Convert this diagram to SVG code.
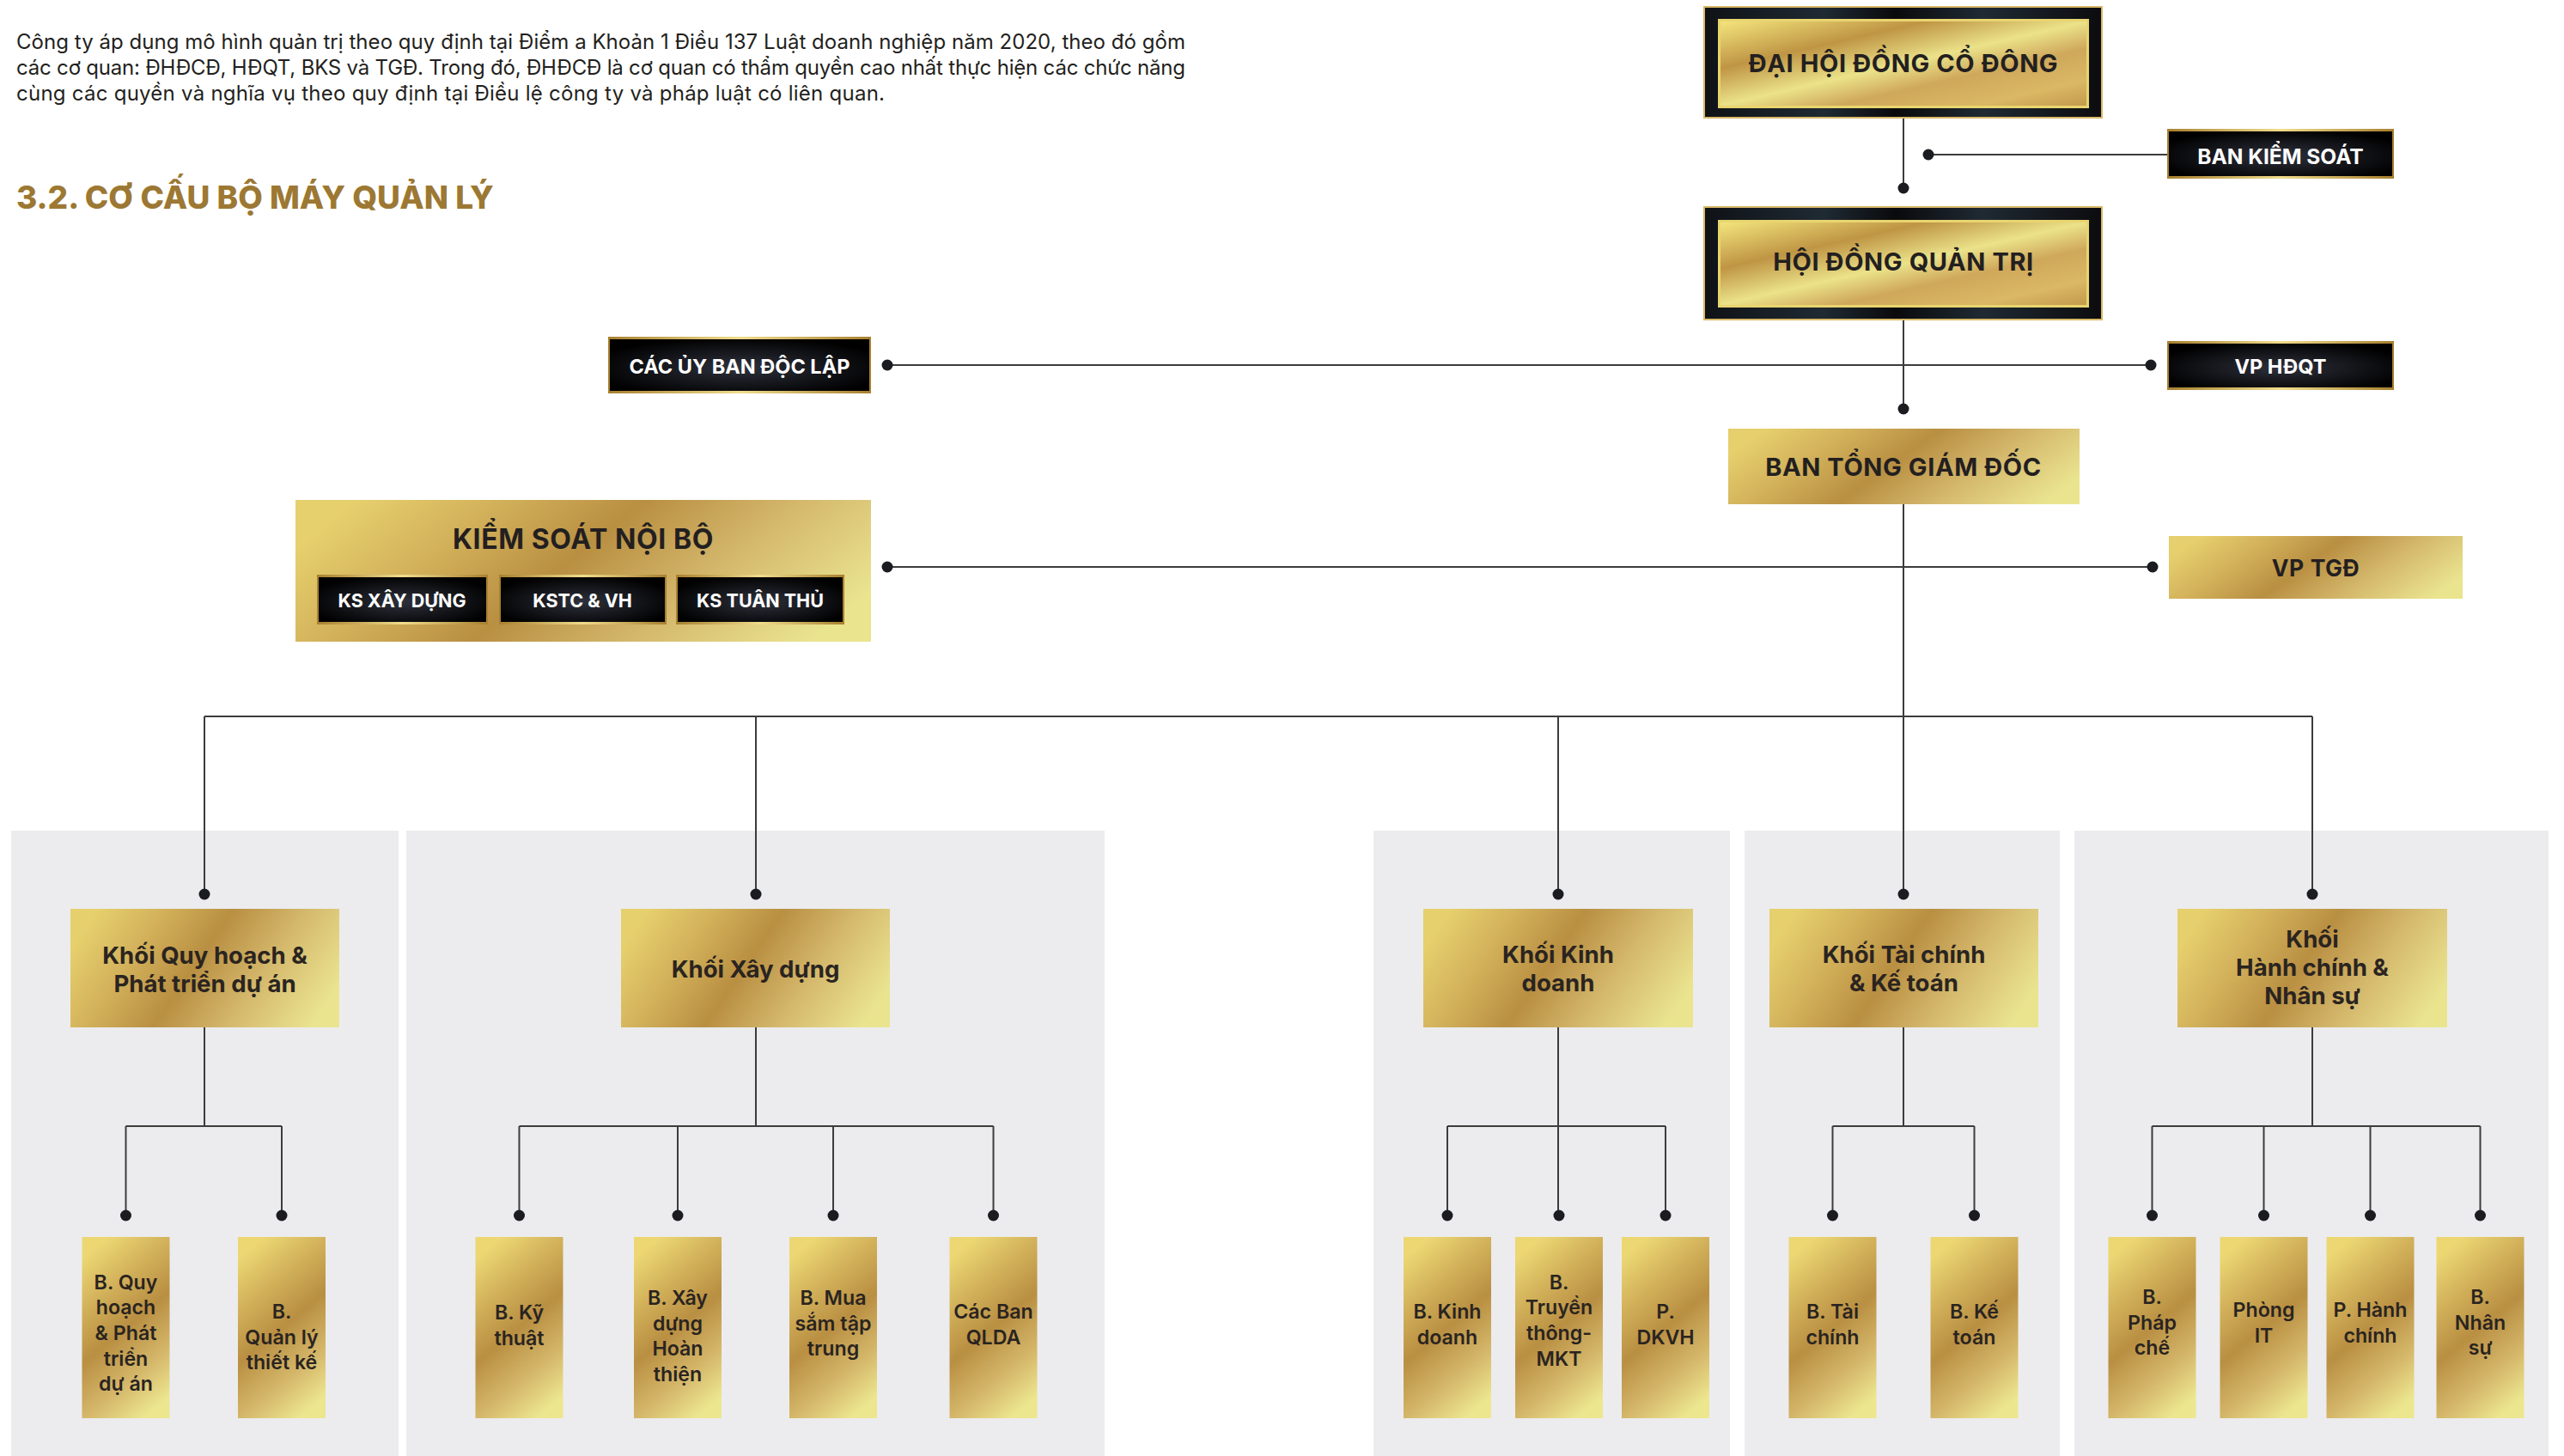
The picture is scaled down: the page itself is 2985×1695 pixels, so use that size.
<svg xmlns="http://www.w3.org/2000/svg" width="2985" height="1695" viewBox="0 0 2985 1695">
<defs>
<linearGradient id="goldH" x1="0" y1="0.35" x2="1" y2="0.65">
<stop offset="0" stop-color="#e6cf6d"/><stop offset="0.22" stop-color="#d3b25b"/><stop offset="0.46" stop-color="#b98f42"/><stop offset="0.72" stop-color="#d5b96d"/><stop offset="1" stop-color="#eae48f"/>
</linearGradient>
<linearGradient id="goldV" x1="0.3" y1="0" x2="0.7" y2="1">
<stop offset="0" stop-color="#ecd773"/><stop offset="0.25" stop-color="#d2b15a"/><stop offset="0.5" stop-color="#b98f42"/><stop offset="0.78" stop-color="#d6b96c"/><stop offset="1" stop-color="#ece68f"/>
</linearGradient>
<linearGradient id="goldD" x1="0" y1="0" x2="1" y2="1">
<stop offset="0" stop-color="#f3e47c"/><stop offset="0.28" stop-color="#bf9544"/><stop offset="0.5" stop-color="#ebe28a"/><stop offset="0.66" stop-color="#cfa85b"/><stop offset="0.85" stop-color="#dab864"/><stop offset="1" stop-color="#c39a4c"/>
</linearGradient>
<linearGradient id="darkF" x1="0" y1="0" x2="1" y2="0">
<stop offset="0" stop-color="#0f1216"/><stop offset="0.3" stop-color="#1f2a33"/><stop offset="0.48" stop-color="#0a0a0c"/><stop offset="0.7" stop-color="#1f2a33"/><stop offset="1" stop-color="#0c0c0e"/>
</linearGradient>
<linearGradient id="goldLine" x1="0" y1="0" x2="1" y2="0">
<stop offset="0" stop-color="#a8802f"/><stop offset="0.5" stop-color="#f0dc8c"/><stop offset="1" stop-color="#a8802f"/>
</linearGradient>
<radialGradient id="darkR" cx="0.5" cy="0.55" r="0.6">
<stop offset="0" stop-color="#2e313b"/><stop offset="0.55" stop-color="#15161b"/><stop offset="1" stop-color="#000"/>
</radialGradient>
<style>
.para{font-family:Inter,"Noto Sans",sans-serif;font-size:24px;fill:#231f20}
.title{font-family:Inter,"Noto Sans",sans-serif;font-weight:800;font-size:37px;fill:#9c7833}
.big{font-family:Inter,"Noto Sans",sans-serif;font-weight:700;font-size:29px;letter-spacing:0.6px;fill:#231f20;text-anchor:middle}
.wt{font-family:Inter,"Noto Sans",sans-serif;font-weight:700;font-size:23.5px;fill:#fff;text-anchor:middle}
.ks{font-size:21.5px}
.kh{font-family:Inter,"Noto Sans",sans-serif;font-weight:700;font-size:27.6px;fill:#2a2420;text-anchor:middle}
.sub{font-family:Inter,"Noto Sans",sans-serif;font-weight:600;font-size:23.2px;fill:#2a2420;text-anchor:middle}
.panel{fill:#ececee}
.ln{stroke:#3c3c3c;stroke-width:2;fill:none}
.dot{fill:#1b1c20}
.sb{fill:url(#goldV)}
.gh{fill:url(#goldH)}
</style>
</defs>
<rect width="2985" height="1695" fill="#fff"/>
<g id="intro">
<text class="para" x="19" y="57" textLength="1361" lengthAdjust="spacing">Công ty áp dụng mô hình quản trị theo quy định tại Điểm a Khoản 1 Điều 137 Luật doanh nghiệp năm 2020, theo đó gồm</text>
<text class="para" x="19" y="87" textLength="1361" lengthAdjust="spacing">các cơ quan: ĐHĐCĐ, HĐQT, BKS và TGĐ. Trong đó, ĐHĐCĐ là cơ quan có thẩm quyền cao nhất thực hiện các chức năng</text>
<text class="para" x="19" y="117" textLength="1011" lengthAdjust="spacing">cùng các quyền và nghĩa vụ theo quy định tại Điều lệ công ty và pháp luật có liên quan.</text>
<text class="title" x="19" y="243">3.2. CƠ CẤU BỘ MÁY QUẢN LÝ</text>
</g>
<g id="panels">
<rect class="panel" x="13" y="967" width="451" height="728"/>
<rect class="panel" x="473" y="967" width="813" height="728"/>
<rect class="panel" x="1599" y="967" width="415" height="728"/>
<rect class="panel" x="2031" y="967" width="367" height="728"/>
<rect class="panel" x="2415" y="967" width="552" height="728"/>
</g>
<g id="connectors">
<path class="ln" d="M2216 138V219M2216 373V476M2216 587V834M238 834H2692M238 834V1041M880 834V1041M1814 834V1041M2216 834V1041M2692 834V1041"/>
<path class="ln" d="M2245 180H2523M1033 425H2504M1033 660H2506"/>
<path class="ln" d="M238 1196V1311M146.5 1311H328M146.5 1311V1415M328 1311V1415"/>
<path class="ln" d="M880 1196V1311M604.5 1311H1156.5M604.5 1311V1415M789 1311V1415M970 1311V1415M1156.5 1311V1415"/>
<path class="ln" d="M1814 1196V1415M1685 1311H1939M1685 1311V1415M1939 1311V1415"/>
<path class="ln" d="M2216 1196V1311M2133.5 1311H2298.5M2133.5 1311V1415M2298.5 1311V1415"/>
<path class="ln" d="M2692 1196V1311M2505.5 1311H2887.5M2505.5 1311V1415M2635.5 1311V1415M2759.5 1311V1415M2887.5 1311V1415"/>
<circle class="dot" cx="2216" cy="219" r="6.5"/>
<circle class="dot" cx="2245" cy="180" r="6.5"/>
<circle class="dot" cx="2216" cy="476" r="6.5"/>
<circle class="dot" cx="1033" cy="425" r="6.5"/>
<circle class="dot" cx="2504" cy="425" r="6.5"/>
<circle class="dot" cx="1033" cy="660" r="6.5"/>
<circle class="dot" cx="2506" cy="660" r="6.5"/>
<circle class="dot" cx="238" cy="1041" r="6.5"/>
<circle class="dot" cx="880" cy="1041" r="6.5"/>
<circle class="dot" cx="1814" cy="1041" r="6.5"/>
<circle class="dot" cx="2216" cy="1041" r="6.5"/>
<circle class="dot" cx="2692" cy="1041" r="6.5"/>
<circle class="dot" cx="146.5" cy="1415" r="6.5"/>
<circle class="dot" cx="328" cy="1415" r="6.5"/>
<circle class="dot" cx="604.5" cy="1415" r="6.5"/>
<circle class="dot" cx="789" cy="1415" r="6.5"/>
<circle class="dot" cx="970" cy="1415" r="6.5"/>
<circle class="dot" cx="1156.5" cy="1415" r="6.5"/>
<circle class="dot" cx="1685" cy="1415" r="6.5"/>
<circle class="dot" cx="1815" cy="1415" r="6.5"/>
<circle class="dot" cx="1939" cy="1415" r="6.5"/>
<circle class="dot" cx="2133.5" cy="1415" r="6.5"/>
<circle class="dot" cx="2298.5" cy="1415" r="6.5"/>
<circle class="dot" cx="2505.5" cy="1415" r="6.5"/>
<circle class="dot" cx="2635.5" cy="1415" r="6.5"/>
<circle class="dot" cx="2759.5" cy="1415" r="6.5"/>
<circle class="dot" cx="2887.5" cy="1415" r="6.5"/>
</g>
<g id="dhdcd">
<rect x="1983" y="7" width="465" height="131" fill="#d8b868"/>
<rect x="1985" y="9" width="461" height="127" fill="url(#darkF)"/>
<rect x="2000" y="22" width="432" height="104" fill="#e9d570"/>
<rect x="2003" y="25" width="426" height="98" fill="url(#goldD)"/>
<text class="big" x="2216" y="84">ĐẠI HỘI ĐỒNG CỔ ĐÔNG</text>
</g>
<g id="hdqt">
<rect x="1983" y="240" width="465" height="133" fill="#d8b868"/>
<rect x="1985" y="242" width="461" height="129" fill="url(#darkF)"/>
<rect x="2000" y="256" width="432" height="102" fill="#e9d570"/>
<rect x="2003" y="259" width="426" height="96" fill="url(#goldD)"/>
<text class="big" x="2216" y="315">HỘI ĐỒNG QUẢN TRỊ</text>
</g>
<g id="bks">
<rect x="2523" y="150" width="264" height="58" fill="url(#goldLine)"/>
<rect x="2525" y="153" width="260" height="52" fill="url(#darkR)"/>
<text class="wt" x="2655" y="190.5" style="font-size:24.5px">BAN KIỂM SOÁT</text>
</g>
<g id="vphdqt">
<rect x="2523" y="397" width="264" height="57" fill="url(#goldLine)"/>
<rect x="2525" y="400" width="260" height="51" fill="url(#darkR)"/>
<text class="wt" x="2655" y="435">VP HĐQT</text>
</g>
<g id="uyban">
<rect x="708" y="392" width="306" height="66" fill="url(#goldLine)"/>
<rect x="710" y="395" width="302" height="60" fill="url(#darkR)"/>
<text class="wt" x="861" y="435">CÁC ỦY BAN ĐỘC LẬP</text>
</g>
<g id="btgd">
<rect class="gh" x="2012" y="499" width="409" height="88"/>
<text class="big" x="2216" y="553.5">BAN TỔNG GIÁM ĐỐC</text>
</g>
<g id="vptgd">
<rect class="gh" x="2525" y="624" width="342" height="73"/>
<text class="big" x="2696" y="671" style="font-size:26.5px">VP TGĐ</text>
</g>
<g id="ksnb">
<rect class="gh" x="344" y="582" width="670" height="165"/>
<text class="big" x="679" y="639" style="font-size:32px">KIỂM SOÁT NỘI BỘ</text>
<g id="ks-xd">
<rect x="369" y="669" width="199" height="58" fill="url(#goldLine)"/>
<rect x="371" y="672" width="195" height="52" fill="url(#darkR)"/>
<text class="wt ks" x="468" y="707">KS XÂY DỰNG</text>
</g>
<g id="ks-tc">
<rect x="581" y="669" width="195" height="58" fill="url(#goldLine)"/>
<rect x="583" y="672" width="191" height="52" fill="url(#darkR)"/>
<text class="wt ks" x="678" y="707">KSTC &amp; VH</text>
</g>
<g id="ks-tt">
<rect x="787" y="669" width="196" height="58" fill="url(#goldLine)"/>
<rect x="789" y="672" width="192" height="52" fill="url(#darkR)"/>
<text class="wt ks" x="885" y="707">KS TUÂN THỦ</text>
</g>
</g>
<g id="khoi-qh">
<rect class="gh" x="82" y="1058" width="313" height="138"/>
<text class="kh" x="238.5" y="1122">Khối Quy hoạch &amp;</text>
<text class="kh" x="238.5" y="1155">Phát triển dự án</text>
</g>
<g id="khoi-xd">
<rect class="gh" x="723" y="1058" width="313" height="138"/>
<text class="kh" x="879.5" y="1138">Khối Xây dựng</text>
</g>
<g id="khoi-kd">
<rect class="gh" x="1657" y="1058" width="314" height="138"/>
<text class="kh" x="1814" y="1121">Khối Kinh</text>
<text class="kh" x="1814" y="1154">doanh</text>
</g>
<g id="khoi-tc">
<rect class="gh" x="2060" y="1058" width="313" height="138"/>
<text class="kh" x="2216.5" y="1121">Khối Tài chính</text>
<text class="kh" x="2216.5" y="1154">&amp; Kế toán</text>
</g>
<g id="khoi-hc">
<rect class="gh" x="2535" y="1058" width="314" height="138"/>
<text class="kh" x="2692" y="1103">Khối</text>
<text class="kh" x="2692" y="1136">Hành chính &amp;</text>
<text class="kh" x="2692" y="1169">Nhân sự</text>
</g>
<g id="b-quyhoach">
<rect class="sb" x="95.5" y="1440" width="102" height="211"/>
<text class="sub" x="146.5" y="1500.5">B. Quy<tspan x="146.5" dy="29.7">hoạch</tspan><tspan x="146.5" dy="29.7">&amp; Phát</tspan><tspan x="146.5" dy="29.7">triển</tspan><tspan x="146.5" dy="29.7">dự án</tspan></text>
</g>
<g id="b-quanlytk">
<rect class="sb" x="277" y="1440" width="102" height="211"/>
<text class="sub" x="328" y="1535">B.<tspan x="328" dy="29.7">Quản lý</tspan><tspan x="328" dy="29.7">thiết kế</tspan></text>
</g>
<g id="b-kythuat">
<rect class="sb" x="553.5" y="1440" width="102" height="211"/>
<text class="sub" x="604.5" y="1536">B. Kỹ<tspan x="604.5" dy="29.7">thuật</tspan></text>
</g>
<g id="b-xdht">
<rect class="sb" x="738" y="1440" width="102" height="211"/>
<text class="sub" x="789" y="1519">B. Xây<tspan x="789" dy="29.7">dựng</tspan><tspan x="789" dy="29.7">Hoàn</tspan><tspan x="789" dy="29.7">thiện</tspan></text>
</g>
<g id="b-muasam">
<rect class="sb" x="919" y="1440" width="102" height="211"/>
<text class="sub" x="970" y="1519">B. Mua<tspan x="970" dy="29.7">sắm tập</tspan><tspan x="970" dy="29.7">trung</tspan></text>
</g>
<g id="b-qlda">
<rect class="sb" x="1105.5" y="1440" width="102" height="211"/>
<text class="sub" x="1156.5" y="1535">Các Ban<tspan x="1156.5" dy="29.7">QLDA</tspan></text>
</g>
<g id="b-kinhdoanh">
<rect class="sb" x="1634" y="1440" width="102" height="211"/>
<text class="sub" x="1685" y="1535">B. Kinh<tspan x="1685" dy="29.7">doanh</tspan></text>
</g>
<g id="b-truyenthong">
<rect class="sb" x="1764" y="1440" width="102" height="211"/>
<text class="sub" x="1815" y="1500.5">B.<tspan x="1815" dy="29.7">Truyền</tspan><tspan x="1815" dy="29.7">thông-</tspan><tspan x="1815" dy="29.7">MKT</tspan></text>
</g>
<g id="p-dkvh">
<rect class="sb" x="1888" y="1440" width="102" height="211"/>
<text class="sub" x="1939" y="1535">P.<tspan x="1939" dy="29.7">DKVH</tspan></text>
</g>
<g id="b-taichinh">
<rect class="sb" x="2082.5" y="1440" width="102" height="211"/>
<text class="sub" x="2133.5" y="1535">B. Tài<tspan x="2133.5" dy="29.7">chính</tspan></text>
</g>
<g id="b-ketoan">
<rect class="sb" x="2247.5" y="1440" width="102" height="211"/>
<text class="sub" x="2298.5" y="1535">B. Kế<tspan x="2298.5" dy="29.7">toán</tspan></text>
</g>
<g id="b-phapche">
<rect class="sb" x="2454.5" y="1440" width="102" height="211"/>
<text class="sub" x="2505.5" y="1518">B.<tspan x="2505.5" dy="29.7">Pháp</tspan><tspan x="2505.5" dy="29.7">chế</tspan></text>
</g>
<g id="p-it">
<rect class="sb" x="2584.5" y="1440" width="102" height="211"/>
<text class="sub" x="2635.5" y="1533">Phòng<tspan x="2635.5" dy="29.7">IT</tspan></text>
</g>
<g id="p-hanhchinh">
<rect class="sb" x="2708.5" y="1440" width="102" height="211"/>
<text class="sub" x="2759.5" y="1533">P. Hành<tspan x="2759.5" dy="29.7">chính</tspan></text>
</g>
<g id="b-nhansu">
<rect class="sb" x="2836.5" y="1440" width="102" height="211"/>
<text class="sub" x="2887.5" y="1518">B.<tspan x="2887.5" dy="29.7">Nhân</tspan><tspan x="2887.5" dy="29.7">sự</tspan></text>
</g>
</svg>
